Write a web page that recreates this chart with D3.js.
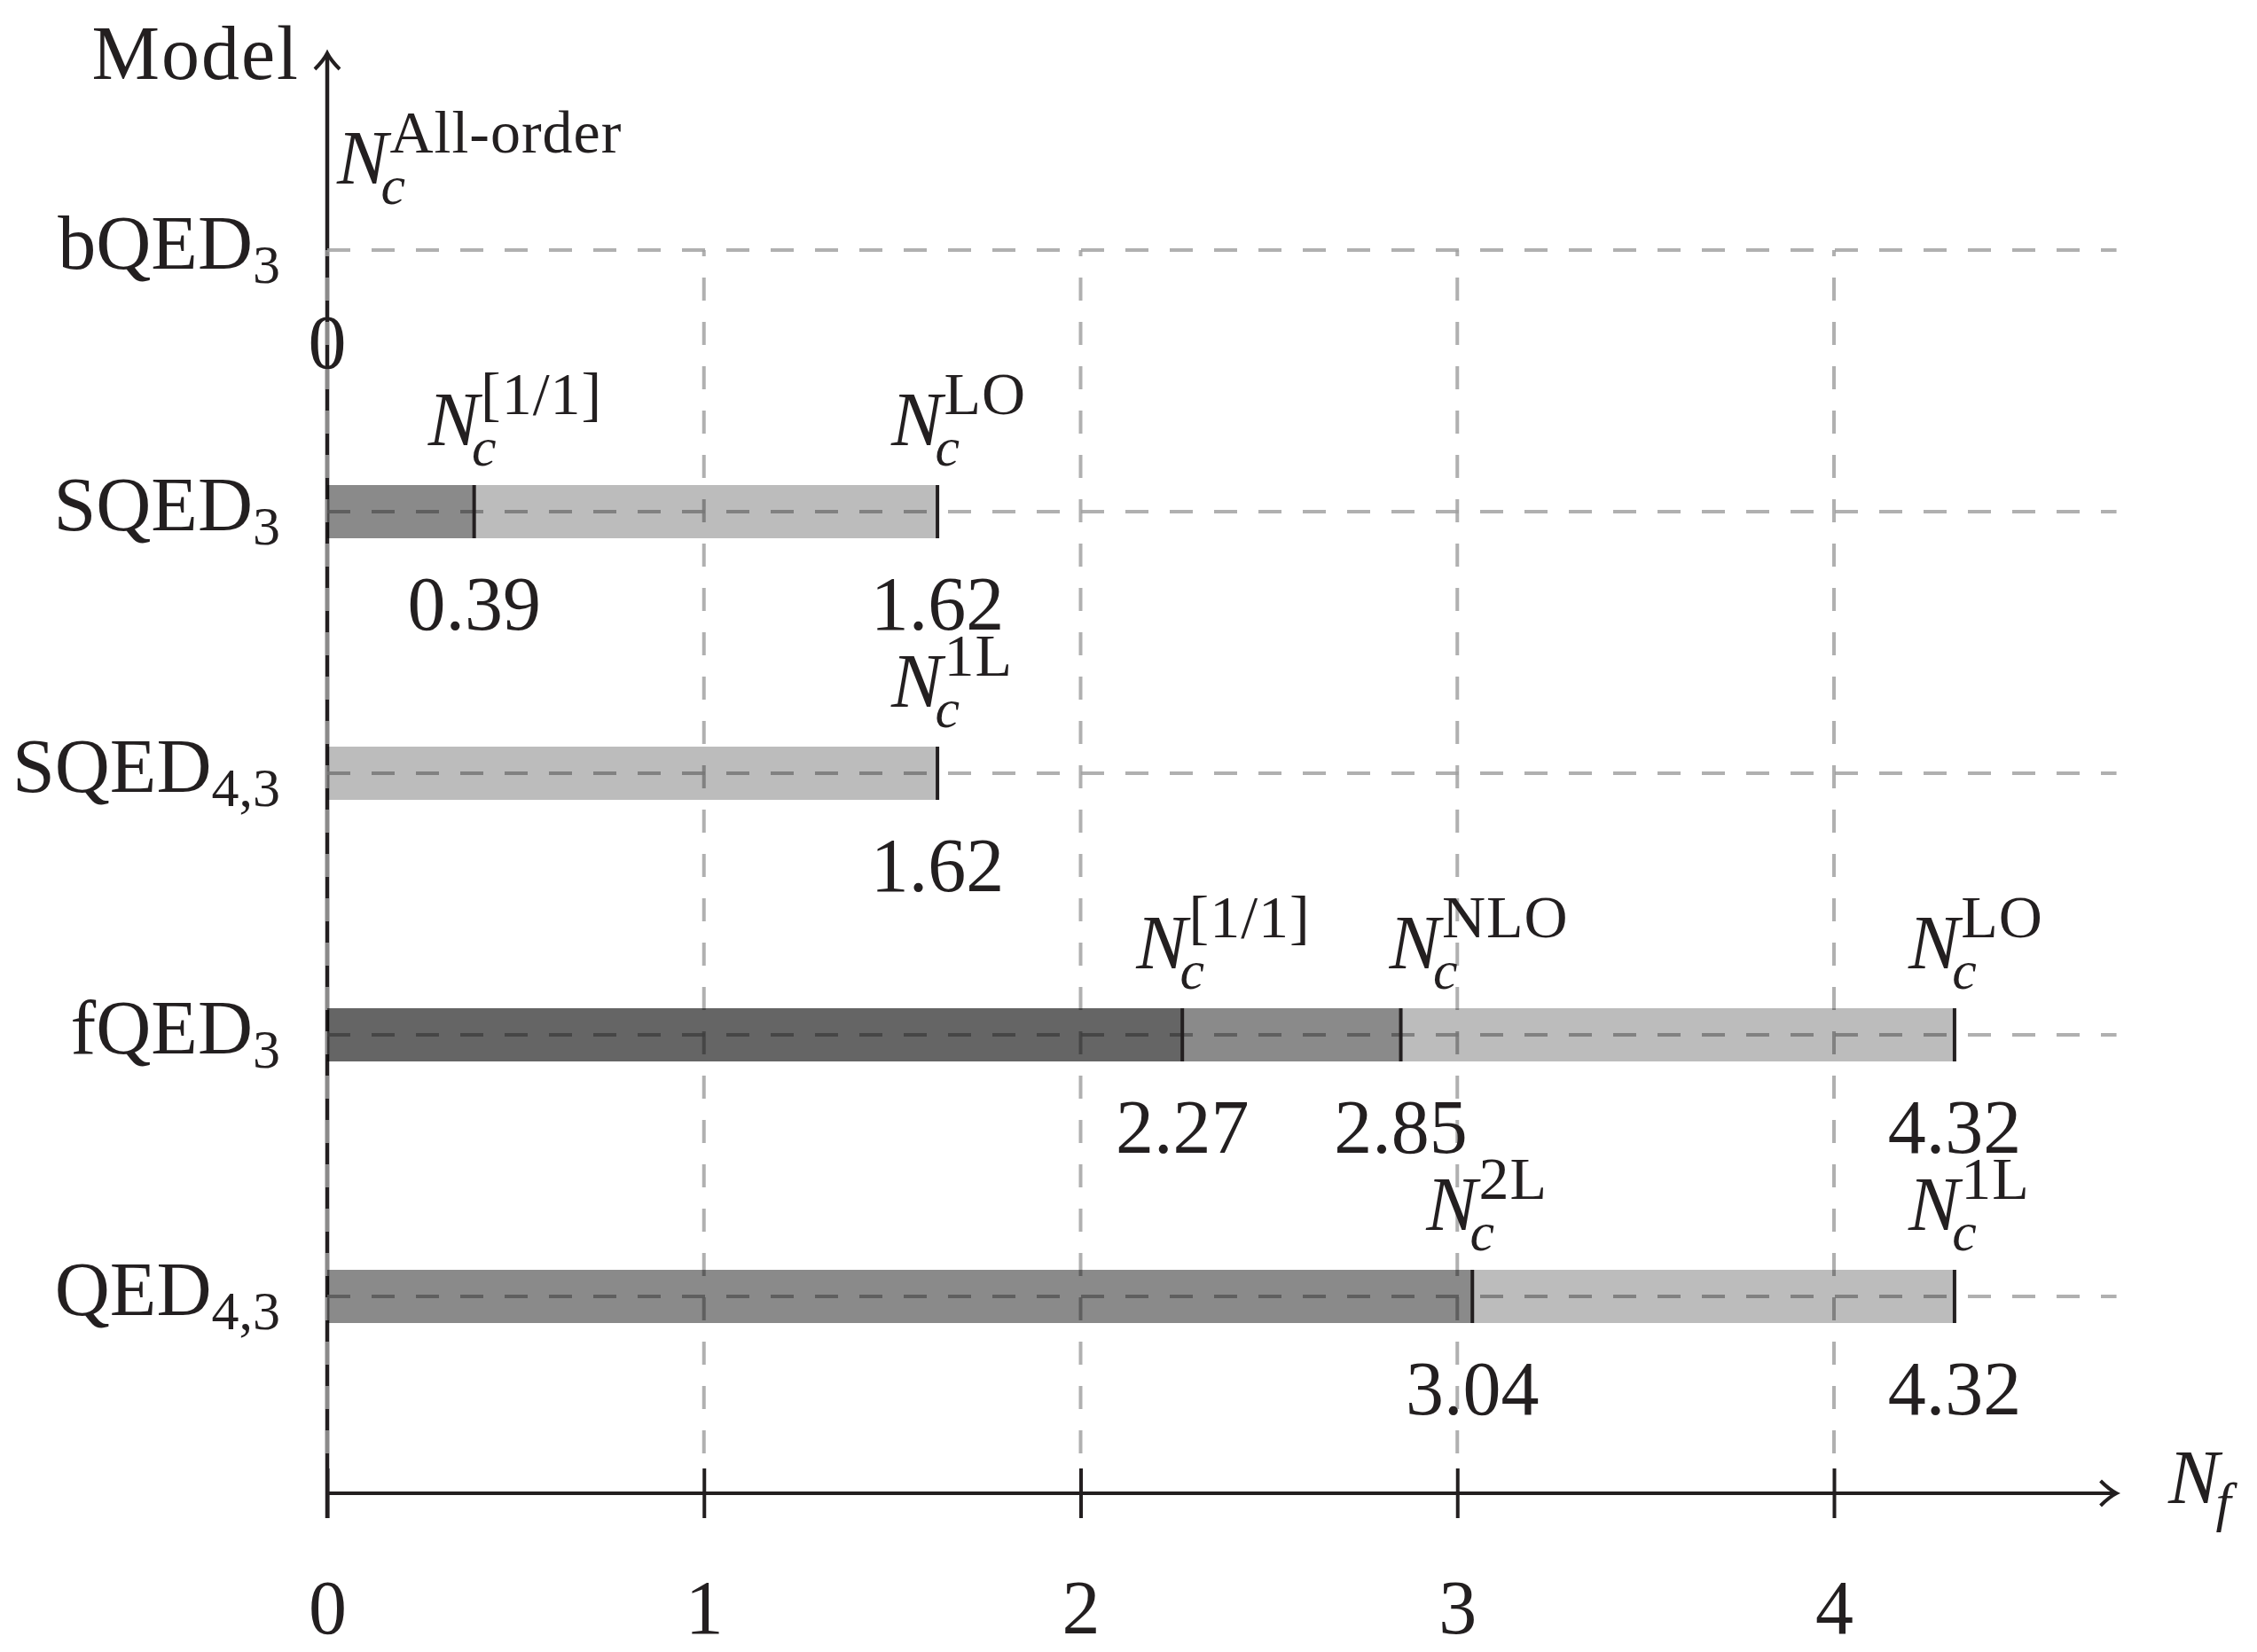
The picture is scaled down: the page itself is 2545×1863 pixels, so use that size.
<!DOCTYPE html>
<html>
<head>
<meta charset="utf-8">
<script src="https://cdn.jsdelivr.net/npm/d3@7"></script>
<style>
  body { margin: 0; background: #fff; }
  text { font-family: "Liberation Serif", "Times New Roman", serif; fill: #231f20; }
</style>
</head>
<body>
<svg id="chart"></svg>
<script>
const width = 2545, height = 1863;

// models: name + subscript
const modelNames = ['bQED', 'SQED', 'SQED', 'fQED', 'QED'];
const modelSubs = ['3', '3', '4,3', '3', '4,3'];

// critical N_f estimates per model (superscript of N_c, value)
const estLabels = [['All-order'], ['[1/1]', 'LO'], ['1L'], ['[1/1]', 'NLO', 'LO'], ['2L', '1L']];
const estValues = [[0], [0.39, 1.62], [1.62], [2.27, 2.85, 4.32], [3.04, 4.32]];

const xTicks = [0, 1, 2, 3, 4];
const xMax = 4.75;

// small horizontal nudges for labels that would collide
const labelShift = { 'All-order': 11, 'NLO': -13 };
const defaultShift = -52;

const ink = '#231f20';
const mainSize = 86, smallSize = 62, supSize = 68;

const svg = d3.select('#chart')
  .attr('width', width)
  .attr('height', height)
  .style('background', '#fff');

const x = d3.scaleLinear().domain([0, 4]).range([369, 2068]);
const y = d3.scalePoint().domain(d3.range(modelNames.length)).range([282, 1462]);
const axisY = 1684;
const barH = 60;

// ---- axes lines ----
svg.append('line')
  .attr('x1', x(0)).attr('x2', x(0))
  .attr('y1', axisY + 28).attr('y2', 61)
  .attr('stroke', ink).attr('stroke-width', 4.5);
svg.append('path')
  .attr('d', `M${x(0) - 14},${78} Q${x(0) - 4},${68} ${x(0)},${60} Q${x(0) + 4},${68} ${x(0) + 14},${78}`)
  .attr('fill', 'none').attr('stroke', ink).attr('stroke-width', 4);

svg.append('line')
  .attr('x1', x(0)).attr('x2', x(xMax) - 1)
  .attr('y1', axisY).attr('y2', axisY)
  .attr('stroke', ink).attr('stroke-width', 4);
svg.append('path')
  .attr('d', `M${x(xMax) - 18},${axisY - 14} Q${x(xMax) - 8},${axisY - 4} ${x(xMax)},${axisY} Q${x(xMax) - 8},${axisY + 4} ${x(xMax) - 18},${axisY + 14}`)
  .attr('fill', 'none').attr('stroke', ink).attr('stroke-width', 4);

const xAxis = d3.axisBottom(x).tickValues(xTicks).tickSize(28).tickFormat(d3.format('d'));
const gx = svg.append('g')
  .attr('transform', `translate(0, ${axisY})`)
  .call(xAxis);
gx.select('.domain').remove();
gx.selectAll('.tick line')
  .attr('y1', -28).attr('y2', 28)
  .attr('stroke', ink).attr('stroke-width', 4);
gx.selectAll('.tick text')
  .attr('y', 158).attr('dy', 0)
  .attr('font-family', '"Liberation Serif", serif')
  .attr('font-size', mainSize)
  .attr('fill', ink);

// ---- dashed grid ----
const grid = svg.append('g')
  .attr('stroke', '#a0a0a0')
  .attr('stroke-opacity', 0.83)
  .attr('stroke-width', 4)
  .attr('stroke-dasharray', '26 24');

grid.selectAll('.vgrid')
  .data(xTicks)
  .enter()
  .append('line')
  .attr('x1', d => x(d)).attr('x2', d => x(d))
  .attr('y1', 1639).attr('y2', 282);

grid.selectAll('.hgrid')
  .data(modelNames.map((d, i) => i))
  .enter()
  .append('line')
  .attr('x1', x(0)).attr('x2', x(xMax))
  .attr('y1', d => y(d)).attr('y2', d => y(d));

// ---- flat list of estimates ----
const estimates = [];
estValues.forEach((vals, i) => {
  vals.forEach((v, j) => estimates.push({ model: i, value: v, label: estLabels[i][j] }));
});

// overlapping translucent bars, each from 0 to its value
svg.selectAll('.bar')
  .data(estimates.filter(d => d.value > 0))
  .enter()
  .append('rect')
  .attr('x', x(0))
  .attr('y', d => y(d.model) - barH / 2)
  .attr('width', d => x(d.value) - x(0))
  .attr('height', barH)
  .attr('fill', '#000')
  .attr('fill-opacity', 0.263);

// marker at each bar end
svg.selectAll('.marker')
  .data(estimates.filter(d => d.value > 0))
  .enter()
  .append('line')
  .attr('x1', d => x(d.value)).attr('x2', d => x(d.value))
  .attr('y1', d => y(d.model) - barH / 2)
  .attr('y2', d => y(d.model) + barH / 2)
  .attr('stroke', ink).attr('stroke-width', 4);

// values under bars
svg.selectAll('.val')
  .data(estimates)
  .enter()
  .append('text')
  .attr('x', d => x(d.value))
  .attr('y', d => y(d.model) + 133)
  .attr('text-anchor', 'middle')
  .attr('font-size', mainSize)
  .text(d => d.value === 0 ? '0' : d3.format('.2f')(d.value));

// N_c^{label} above bars
estimates.forEach(d => {
  const x0 = x(d.value) + (labelShift[d.label] !== undefined ? labelShift[d.label] : defaultShift);
  const row = y(d.model);
  const lab = svg.append('text')
    .attr('x', x0).attr('y', row - 75)
    .attr('font-size', mainSize)
    .attr('font-style', 'italic');
  lab.append('tspan').text('N');
  lab.append('tspan')
    .attr('font-size', smallSize)
    .attr('dx', -8).attr('dy', 23)
    .text('c');
  const w = lab.select('tspan').node().getComputedTextLength();
  svg.append('text')
    .attr('x', x0 + w + 2).attr('y', row - 110)
    .attr('font-size', supSize)
    .attr('letter-spacing', 1)
    .text(d.label);
});

// model labels on the left
const ml = svg.selectAll('.model')
  .data(modelNames.map((d, i) => i))
  .enter()
  .append('text')
  .attr('x', 316)
  .attr('y', d => y(d) + 21)
  .attr('text-anchor', 'end')
  .attr('font-size', mainSize);
ml.append('tspan').text(d => modelNames[d]);
ml.append('tspan')
  .attr('font-size', smallSize)
  .attr('dy', 16)
  .text(d => modelSubs[d]);

// axis titles
svg.append('text')
  .attr('x', 338).attr('y', 89)
  .attr('text-anchor', 'end')
  .attr('font-size', mainSize)
  .attr('letter-spacing', 2)
  .text('Model');

const nf = svg.append('text')
  .attr('x', 2445).attr('y', 1695)
  .attr('font-size', mainSize)
  .attr('font-style', 'italic');
nf.append('tspan').text('N');
nf.append('tspan')
  .attr('font-size', smallSize)
  .attr('dy', 20)
  .attr('dx', -4)
  .text('f');
</script>
</body>
</html>
